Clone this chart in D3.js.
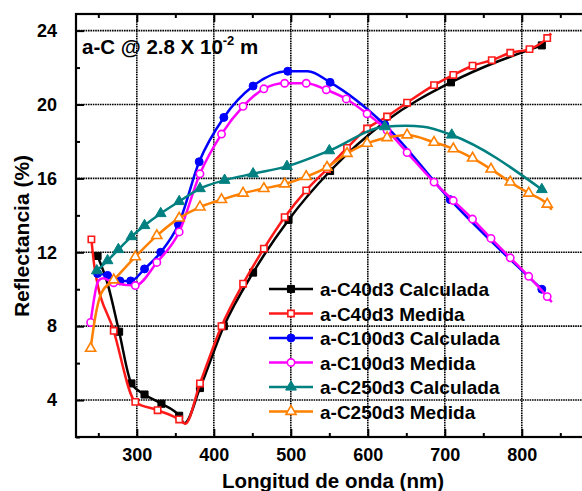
<!DOCTYPE html>
<html>
<head>
<meta charset="utf-8">
<script src="https://cdn.jsdelivr.net/npm/d3@7"></script>
<style>
  body { margin: 0; background: #fff; }
  svg text { font-family: "Liberation Sans", Arial, sans-serif; font-weight: bold; fill: #000; }
</style>
</head>
<body>
<div id="chart"></div>
<script>
// wavelength (nm) and reflectance (%), one pair of arrays per curve
// "bend" points are where the line has a kink between markers (no marker drawn there)
const lamC40Calc = [249, 277, 293, 310, 332, 355, 382, 413, 451, 497, 551, 708, 826];
const refC40Calc = [11.8, 7.7, 4.9, 4.3, 3.8, 3.15, 4.65, 8.0, 10.9, 13.75, 16.4, 21.2, 23.2];
const bendC40Calc = [[262, 10.3], [362, 2.75], [625, 19.15]];

const lamC40Med = [241, 270, 298, 327, 355, 382, 410, 438, 465, 492, 520, 547, 573, 599, 625, 651, 686, 711, 736, 761, 785, 810, 833];
const refC40Med = [12.7, 7.75, 3.9, 3.45, 2.95, 4.9, 8.0, 10.3, 12.2, 13.9, 15.35, 16.5, 17.65, 18.7, 19.35, 20.1, 21.05, 21.6, 22.1, 22.4, 22.8, 23.0, 23.6];
const bendC40Med = [[245, 11.2], [363, 2.72], [838, 23.85]];

const lamC100Calc = [249, 262, 278, 292, 310, 331, 354, 381, 413, 451, 496, 551, 622, 707, 826];
const refC100Calc = [10.85, 10.75, 10.45, 10.45, 11.1, 12.0, 13.5, 16.9, 19.3, 21.0, 21.8, 21.2, 18.9, 14.85, 10.0];
const bendC100Calc = [[522, 21.8]];

const lamC100Med = [240, 270, 298, 326, 355, 382, 410, 438, 465, 492, 520, 546, 572, 599, 625, 651, 686, 711, 736, 760, 785, 809, 833];
const refC100Med = [8.2, 10.35, 10.2, 11.45, 13.1, 16.25, 18.4, 19.9, 20.85, 21.15, 21.15, 20.8, 20.3, 19.5, 18.6, 17.4, 15.8, 14.8, 13.8, 12.75, 11.7, 10.7, 9.6];
const bendC100Med = [[250, 10.45], [256, 10.6], [839, 9.3]];

const lamC250Calc = [248, 262, 276, 293, 310, 331, 355, 382, 414, 451, 495, 550, 622, 709, 826];
const refC250Calc = [11.0, 11.55, 12.15, 12.85, 13.45, 14.1, 14.75, 15.45, 15.9, 16.25, 16.65, 17.5, 18.8, 18.35, 15.4];
const bendC250Calc = [[650, 18.85], [672, 18.8]];

const lamC250Med = [240, 270, 298, 326, 355, 382, 410, 438, 465, 492, 520, 547, 573, 599, 625, 651, 686, 711, 736, 760, 785, 809, 833];
const refC250Med = [6.8, 10.5, 11.75, 12.9, 13.85, 14.45, 14.85, 15.2, 15.45, 15.7, 16.1, 16.6, 17.35, 17.9, 18.2, 18.35, 17.95, 17.6, 17.1, 16.5, 15.8, 15.2, 14.6];
const bendC250Med = [[246, 8.5], [254, 9.8], [839, 14.3]];

const seriesNames = ["a-C40d3 Calculada", "a-C40d3 Medida", "a-C100d3 Calculada", "a-C100d3 Medida", "a-C250d3 Calculada", "a-C250d3 Medida"];
const xTicks = [300, 400, 500, 600, 700, 800];
const xMinorTicks = [250, 350, 450, 550, 650, 750, 850];
const yTicks = [4, 8, 12, 16, 20, 24];
const yMinorTicks = [2, 6, 10, 14, 18, 22];

const width = 582, height = 491;
const plotLeft = 76, plotTop = 14, plotRight = 583.4, plotBottom = 437;

const series = [
  { name: seriesNames[0], lam: lamC40Calc, ref: refC40Calc, bend: bendC40Calc, color: "#000000", shape: d3.symbolSquare, size: 50, open: false },
  { name: seriesNames[1], lam: lamC40Med, ref: refC40Med, bend: bendC40Med, color: "#ff1a1a", shape: d3.symbolSquare, size: 40, open: true },
  { name: seriesNames[2], lam: lamC100Calc, ref: refC100Calc, bend: bendC100Calc, color: "#0000ff", shape: d3.symbolCircle, size: 50, open: false },
  { name: seriesNames[3], lam: lamC100Med, ref: refC100Med, bend: bendC100Med, color: "#ff00ff", shape: d3.symbolCircle, size: 42, open: true },
  { name: seriesNames[4], lam: lamC250Calc, ref: refC250Calc, bend: bendC250Calc, color: "#008080", shape: d3.symbolTriangle, size: 50, open: false },
  { name: seriesNames[5], lam: lamC250Med, ref: refC250Med, bend: bendC250Med, color: "#ff8000", shape: d3.symbolTriangle, size: 44, open: true }
];

const x = d3.scaleLinear().domain([221, 880]).range([plotLeft, plotRight]);
const y = d3.scaleLinear().domain([2, 24.9]).range([plotBottom, plotTop]);

const svg = d3.select("#chart").append("svg")
  .attr("width", width)
  .attr("height", height);

// grid
const grid = svg.append("g");
grid.selectAll(".gx").data(xTicks).enter().append("line")
  .attr("x1", d => x(d)).attr("x2", d => x(d))
  .attr("y1", plotTop).attr("y2", plotBottom)
  .attr("stroke", "#000").attr("stroke-width", 1.6).attr("stroke-dasharray", "1.6,0.8");
grid.selectAll(".gy").data(yTicks).enter().append("line")
  .attr("x1", plotLeft).attr("x2", plotRight)
  .attr("y1", d => y(d)).attr("y2", d => y(d))
  .attr("stroke", "#000").attr("stroke-width", 1.6).attr("stroke-dasharray", "1.6,0.8");

// axes, ticks pointing inwards
svg.append("g")
  .attr("transform", `translate(${plotLeft},0)`)
  .call(d3.axisLeft(y).tickValues(yTicks).tickSize(-8).tickPadding(19));
svg.append("g")
  .attr("transform", `translate(${plotLeft},0)`)
  .call(d3.axisLeft(y).tickValues(yMinorTicks).tickSize(-4).tickFormat(""));

svg.append("g")
  .attr("transform", `translate(0,${plotBottom})`)
  .call(d3.axisBottom(x).tickValues(xTicks).tickSize(-8).tickPadding(11));
svg.append("g")
  .attr("transform", `translate(0,${plotBottom})`)
  .call(d3.axisBottom(x).tickValues(xMinorTicks).tickSize(-4).tickFormat(""));
svg.append("g")
  .attr("transform", `translate(0,${plotTop})`)
  .call(d3.axisTop(x).tickValues(xTicks).tickSize(-8).tickFormat(""));
svg.append("g")
  .attr("transform", `translate(0,${plotTop})`)
  .call(d3.axisTop(x).tickValues(xMinorTicks).tickSize(-4).tickFormat(""));

svg.selectAll(".domain").remove();
svg.selectAll(".tick line").attr("stroke", "#000").attr("stroke-width", 2);
svg.selectAll(".tick text").style("font-size", "18px");

svg.append("rect")
  .attr("x", plotLeft).attr("y", plotTop)
  .attr("width", plotRight - plotLeft).attr("height", plotBottom - plotTop)
  .attr("fill", "none").attr("stroke", "#000").attr("stroke-width", 2.2);

// axis titles
svg.append("text")
  .attr("x", 333).attr("y", 488)
  .attr("text-anchor", "middle")
  .style("font-size", "20.5px")
  .text("Longitud de onda (nm)");

svg.append("text")
  .attr("transform", "rotate(-90)")
  .attr("x", -236).attr("y", 29)
  .attr("text-anchor", "middle")
  .style("font-size", "21px")
  .text("Reflectancia (%)");

// annotation
const note = svg.append("text")
  .attr("x", 82).attr("y", 54)
  .style("font-size", "20.5px");
note.append("tspan").text("a-C @ 2.8 X 10");
note.append("tspan").attr("dy", -9).style("font-size", "13px").text("-2");
note.append("tspan").attr("dy", 9).text(" m");

// curves
const line = d3.line()
  .x(d => x(d[0]))
  .y(d => y(d[1]))
  .curve(d3.curveMonotoneX);

series.forEach(s => {
  const pts = s.lam.map((l, i) => [l, s.ref[i]]).concat(s.bend).sort((a, b) => a[0] - b[0]);
  svg.append("path")
    .datum(pts)
    .attr("fill", "none")
    .attr("stroke", s.color)
    .attr("stroke-width", 2.5)
    .attr("stroke-linejoin", "round")
    .attr("d", line);

  svg.append("g").selectAll("path")
    .data(s.lam.map((l, i) => [l, s.ref[i]]))
    .enter().append("path")
    .attr("transform", d => `translate(${x(d[0])},${y(d[1])})`)
    .attr("d", d3.symbol().type(s.shape).size(s.size))
    .attr("fill", s.open ? "#fff" : s.color)
    .attr("stroke", s.color)
    .attr("stroke-width", s.open ? 1.6 : 1);
});

// legend
const legend = svg.append("g");
series.forEach((s, i) => {
  const ly = 289 + i * 24.5;
  legend.append("line")
    .attr("x1", 269).attr("x2", 313)
    .attr("y1", ly).attr("y2", ly)
    .attr("stroke", s.color).attr("stroke-width", 2.5);
  legend.append("path")
    .attr("transform", `translate(291,${ly})`)
    .attr("d", d3.symbol().type(s.shape).size(s.size))
    .attr("fill", s.open ? "#fff" : s.color)
    .attr("stroke", s.color)
    .attr("stroke-width", s.open ? 1.6 : 1);
  legend.append("text")
    .attr("x", 320).attr("y", ly + 7)
    .style("font-size", "19px")
    .text(s.name);
});
</script>
</body>
</html>
